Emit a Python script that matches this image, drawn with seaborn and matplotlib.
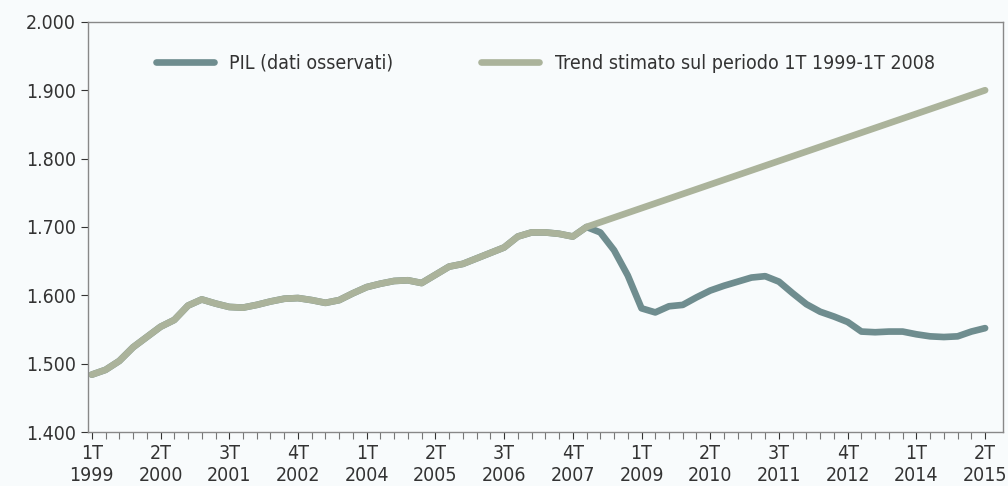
import numpy as np
import pandas as pd
import matplotlib
matplotlib.use('Agg')
import matplotlib.pyplot as plt
import seaborn as sns

# trimestri 1T 1999 - 2T 2015
quarters = [f'{q}T {y}' for y in range(1999, 2016) for q in range(1, 5)][:66]

pil = [1484, 1491, 1504, 1524, 1539, 1554, 1564, 1585, 1594, 1588,
       1583, 1582, 1586, 1591, 1595, 1596, 1593, 1589, 1593, 1603,
       1612, 1617, 1621, 1622, 1618, 1630, 1642, 1646, 1654, 1662,
       1670, 1686, 1692, 1692, 1690, 1686, 1700, 1692, 1666, 1629,
       1581, 1575, 1584, 1586, 1597, 1607, 1614, 1620, 1626, 1628,
       1620, 1603, 1587, 1576, 1569, 1561, 1547, 1546, 1547, 1547,
       1543, 1540, 1539, 1540, 1547, 1552]

# trend: estremi della retta stimata (1T 2008 -> 2T 2015)
trend_start = '1T 2008'
trend_end = '2T 2015'
trend_vals = [1700, 1900]

yticks = [1400, 1500, 1600, 1700, 1800, 1900, 2000]
label_every = 5

col_pil = '#6f8d8f'
col_trend = '#abb39b'

idx = {q: i for i, q in enumerate(quarters)}
df_pil = pd.DataFrame({'t': range(len(quarters)), 'v': pil})
i0 = idx[trend_start]
df_trend = pd.DataFrame({
    't': list(range(i0 + 1)) + [idx[trend_end]],
    'v': pil[:i0 + 1] + [trend_vals[1]],
})
df_trend.loc[i0, 'v'] = trend_vals[0]

sns.set_style('ticks')
plt.rcParams['font.family'] = ['DejaVu Sans']
plt.rcParams['font.stretch'] = 'condensed'

fig = plt.figure(figsize=(10.08, 4.86), dpi=100)
fig.patch.set_facecolor('#f8fbfc')
ax = fig.add_axes([0.087, 0.111, 0.908, 0.844])
ax.set_facecolor('#f8fbfc')

sns.lineplot(data=df_pil, x='t', y='v', color=col_pil, linewidth=4.8,
             ax=ax, label='PIL (dati osservati)')
sns.lineplot(data=df_trend, x='t', y='v', color=col_trend, linewidth=4.8,
             ax=ax, label='Trend stimato sul periodo 1T 1999-1T 2008')

ax.set_xlim(-0.3, 66.3)
ax.set_ylim(1400, 2000)
ax.set_yticks(yticks)
ax.set_yticklabels([f'{v // 1000}.{v % 1000:03d}' for v in yticks])
pos = list(range(0, len(quarters), label_every))
ax.set_xticks(pos)
ax.set_xticklabels([quarters[i].replace(' ', '\n') for i in pos])
ax.set_xticks(range(len(quarters)), minor=True)
ax.tick_params(axis='x', which='both', length=5, width=0.8, color='#777777')
ax.tick_params(axis='y', length=5, width=0.8, color='#777777')
ax.tick_params(labelsize=14, colors='#333333')
ax.set_xlabel('')
ax.set_ylabel('')
for s in ax.spines.values():
    s.set_color('#888888')
    s.set_linewidth(1.0)

leg = ax.legend(loc='upper center', bbox_to_anchor=(0.5, 0.965), ncol=2,
                frameon=False, fontsize=14, handlelength=3, columnspacing=4.5)
for t in leg.get_texts():
    t.set_color('#333333')

fig.savefig('out.png', dpi=100, facecolor=fig.get_facecolor())
